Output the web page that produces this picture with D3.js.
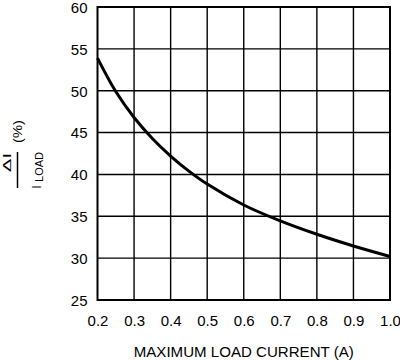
<!DOCTYPE html>
<html>
<head>
<meta charset="utf-8">
<script src="https://cdn.jsdelivr.net/npm/d3@7"></script>
<style>
  html, body { margin: 0; padding: 0; background: #fff; }
  svg { display: block; }
  text { font-family: "Liberation Sans", Arial, sans-serif; fill: #000; }
</style>
</head>
<body>
<svg id="chart" width="400" height="360"></svg>
<script>
const loadCurrent = [0.2, 0.25, 0.3, 0.35, 0.4, 0.45, 0.5, 0.6, 0.7, 0.8, 0.9, 1.0];
const deltaPct    = [53.9, 49.9, 46.8, 44.3, 42.2, 40.4, 38.85, 36.35, 34.45, 32.85, 31.45, 30.2];
const xTicks = [0.2, 0.3, 0.4, 0.5, 0.6, 0.7, 0.8, 0.9, 1.0];
const yTicks = [25, 30, 35, 40, 45, 50, 55, 60];
const xTitle = "MAXIMUM LOAD CURRENT (A)";

const svg = d3.select("#chart");
const L = 97.5, R = 390, T = 7, B = 300;
const x = d3.scaleLinear().domain([0.2, 1.0]).range([L, R]);
const y = d3.scaleLinear().domain([25, 60]).range([B, T]);

// grid
const g = svg.append("g");
g.selectAll("line.vx").data(xTicks.slice(1, -1)).join("line")
  .attr("x1", d => x(d)).attr("x2", d => x(d)).attr("y1", T).attr("y2", B)
  .attr("stroke", "#000").attr("stroke-width", 1.4);
g.selectAll("line.hy").data(yTicks.slice(1, -1)).join("line")
  .attr("y1", d => y(d)).attr("y2", d => y(d)).attr("x1", L).attr("x2", R)
  .attr("stroke", "#000").attr("stroke-width", 1.4);
g.append("rect").attr("x", L).attr("y", T).attr("width", R - L).attr("height", B - T)
  .attr("fill", "none").attr("stroke", "#000").attr("stroke-width", 2);

// axes labels via d3 axes (no tick lines / domain)
const xAxis = svg.append("g").attr("transform", `translate(0,${B})`)
  .call(d3.axisBottom(x).tickValues(xTicks).tickFormat(d3.format(".1f")).tickSize(0).tickPadding(15));
const yAxis = svg.append("g").attr("transform", `translate(${L},0)`)
  .call(d3.axisLeft(y).tickValues(yTicks).tickFormat(d3.format("d")).tickSize(0).tickPadding(10));
[xAxis, yAxis].forEach(a => {
  a.select(".domain").remove();
  a.selectAll("text").attr("font-size", 15).attr("font-family", "Liberation Sans, Arial, sans-serif").attr("fill", "#000");
});
yAxis.selectAll(".tick text").attr("dy", "0.36em");

// curve
const pts = loadCurrent.map((v, i) => [v, deltaPct[i]]);
svg.append("path").datum(pts)
  .attr("d", d3.line().x(d => x(d[0])).y(d => y(d[1])).curve(d3.curveCatmullRom.alpha(0.5)))
  .attr("fill", "none").attr("stroke", "#000").attr("stroke-width", 3);

// x title
svg.append("text").attr("x", (L + R) / 2).attr("y", 357).attr("text-anchor", "middle")
  .attr("font-size", 15).attr("textLength", 220).attr("lengthAdjust", "spacingAndGlyphs")
  .text(xTitle);

// y title: ΔI / I_LOAD (%)
const yl = svg.append("g").attr("transform", "translate(17.5,170) rotate(-90)");
yl.append("line").attr("x1", -18).attr("x2", 18).attr("y1", 0).attr("y2", 0)
  .attr("stroke", "#000").attr("stroke-width", 1.5);
yl.append("text").attr("x", 7.5).attr("y", -6.5).attr("text-anchor", "middle")
  .attr("font-size", 11).attr("textLength", 19).attr("lengthAdjust", "spacingAndGlyphs")
  .text("ΔI");
yl.append("text").attr("x", -17).attr("y", 23.5).attr("text-anchor", "middle")
  .attr("font-size", 12.5).text("I");
yl.append("text").attr("x", -12).attr("y", 25.5).attr("text-anchor", "start")
  .attr("font-size", 10).attr("textLength", 30).attr("lengthAdjust", "spacingAndGlyphs")
  .text("LOAD");
yl.append("text").attr("x", 38.5).attr("y", 4.5).attr("text-anchor", "middle")
  .attr("font-size", 13).attr("textLength", 23).attr("lengthAdjust", "spacingAndGlyphs")
  .text("(%)");
</script>
</body>
</html>
